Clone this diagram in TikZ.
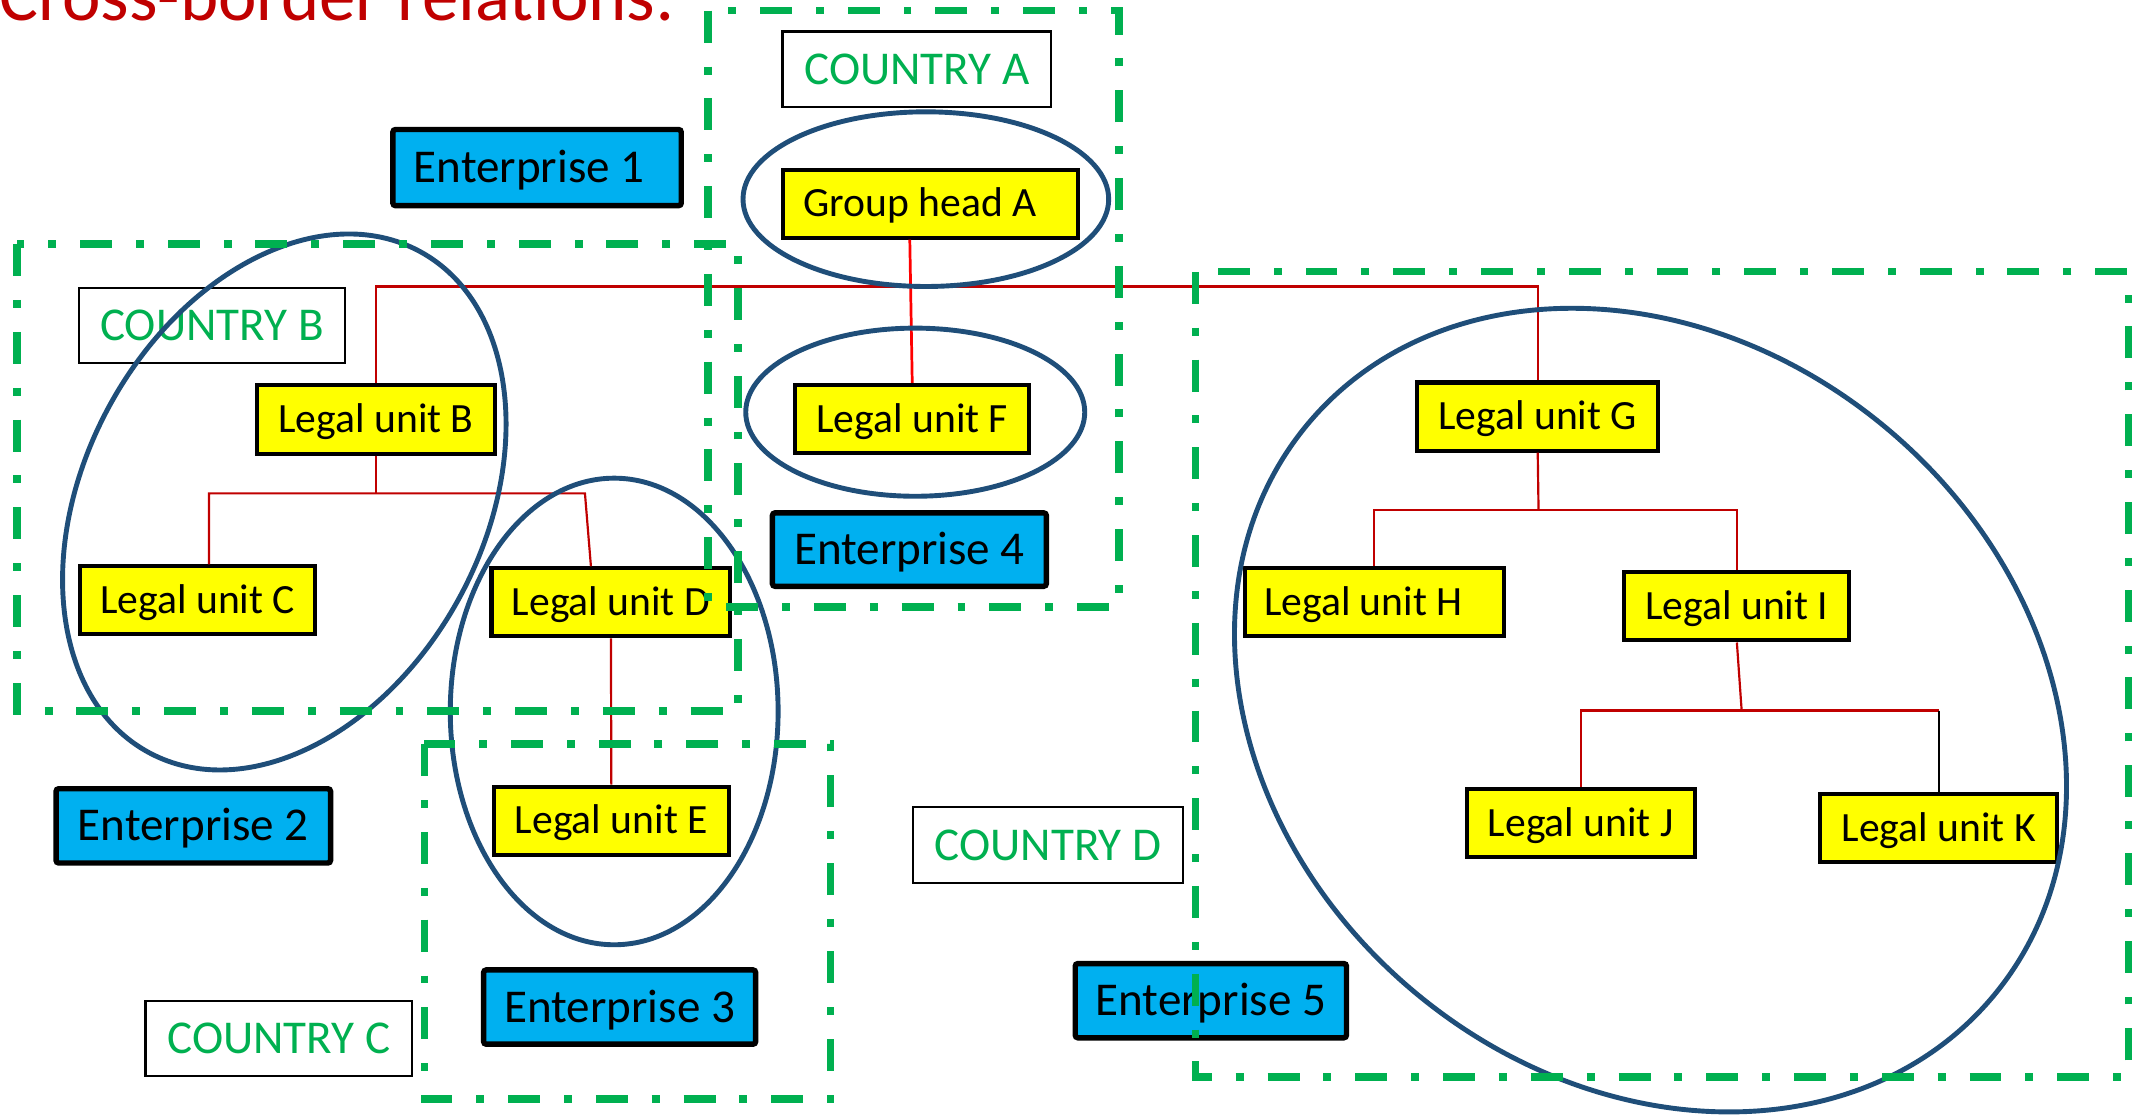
\documentclass[tikz,border=0pt]{standalone}
\usepackage{fontspec}
\setmainfont{Carlito}
\usetikzlibrary{calc}
\definecolor{luyellow}{HTML}{FFFF00}
\definecolor{entblue}{HTML}{00B0F0}
\definecolor{ctrygreen}{HTML}{00B050}
\definecolor{ellblue}{HTML}{1F4E79}
\definecolor{linkred}{HTML}{C00000}
\definecolor{titlered}{HTML}{C00000}
\tikzset{
  lu/.style={draw=black, line width=1.5pt, fill=luyellow, inner sep=0pt,
    minimum height=25pt, text height=9.8pt, text depth=0pt,
    font=\fontsize{15.3}{18}\selectfont},
  ent/.style={draw=black, line width=2pt, fill=entblue, inner sep=0pt,
    rounded corners=1pt, minimum height=27.3pt, text height=11.1pt, text depth=0pt,
    font=\fontsize{17.3}{20}\selectfont},
  ctry/.style={draw=black, line width=0.8pt, fill=white, text=ctrygreen, inner sep=0pt,
    minimum height=27.7pt, text height=11.1pt, text depth=0pt,
    font=\fontsize{17.3}{20}\selectfont},
  grp/.style={draw=ellblue, line width=1.8pt},
  border/.style={draw=ctrygreen, line width=2.7pt,
    dash pattern=on 11.75pt off 8.8pt on 2.9pt off 8.8pt},
  link/.style={draw=linkred, line width=0.8pt},
}
\begin{document}
\begin{tikzpicture}[x=0.5pt,y=-0.5pt]
\useasboundingbox (0,0) rectangle (1568,819.7);

% title
\node[anchor=base west, inner sep=0pt, text=titlered,
  font=\fontsize{26.8}{30}\selectfont] (title) at (-1,15.2) {Cross-border relations:};

% country labels
\node[ctry, minimum width=98.8pt] (cA) at (674,50.9) {COUNTRY A};
\node[ctry, minimum width=97.8pt] (cB) at (155.8,239.3) {COUNTRY B};
\node[ctry, minimum width=98.1pt] (cC) at (205,763.4) {COUNTRY C};
\node[ctry, minimum width=99.1pt] (cD) at (770.4,621.2) {COUNTRY D};

% enterprises
\node[ent, minimum width=106pt, minimum height=28pt] (e1) at (394.8,123.2) {\hspace*{-5.8pt}Enterprise 1};
\node[ent, minimum width=100.9pt] (e2) at (142.1,607.1) {Enterprise 2};
\node[ent, minimum width=100pt] (e3) at (455.5,740.3) {Enterprise 3};
\node[ent, minimum width=100.7pt, minimum height=27pt] (e4) at (668.5,404) {Enterprise 4};
\node[ent, minimum width=99.7pt] (e5) at (890.1,735.6) {Enterprise 5};

% legal units
\node[lu, minimum width=108.4pt] (GH) at (683.8,149.7) {\hspace*{-7.3pt}Group head A};
\node[lu, minimum width=86.1pt] (F) at (670.6,307.9) {Legal unit F};
\node[lu, minimum width=87.2pt, minimum height=25.3pt] (B) at (276.4,308.2) {Legal unit B};
\node[lu, minimum width=86.5pt] (C) at (145.3,441.3) {Legal unit C};
\node[lu, minimum width=87.8pt] (D) at (449.1,442.8) {Legal unit D};
\node[lu, minimum width=86.3pt] (E) at (449.4,603.2) {Legal unit E};
\node[lu, minimum width=88.7pt] (G) at (1130.4,306.2) {Legal unit G};
\node[lu, minimum width=95.3pt] (H) at (1010.2,442.8) {\hspace*{-8pt}Legal unit H};
\node[lu, minimum width=82.7pt] (I) at (1276.8,445.8) {Legal unit I};
\node[lu, minimum width=83.8pt] (J) at (1162,604.9) {Legal unit J};
\node[lu, minimum width=87.1pt] (K) at (1425.1,608.6) {Legal unit K};

% connectors
\coordinate (bus) at (700,210.6);
\draw[link] (B.north) |- (bus) -| (G.north);
\draw[draw=red, line width=1pt] ([xshift=-7.5pt]GH.south) -- (F.north);
\coordinate (Bj) at (430,362.7);
\draw[link] (B.south) -- (B.south |- Bj);
\draw[link] ([xshift=4.15pt]C.north) |- (Bj) -- ([xshift=-7.35pt]D.north);
\draw[link] (D.south) -- (E.north);
\coordinate (Gj) at (1131,374.9);
\draw[link] (G.south) -- (Gj);
\draw[link] (H.north) |- (Gj) -| (I.north);
\coordinate (Ij) at (1280.3,522.3);
\draw[link] (I.south) -- (Ij);
\draw[link] (J.north) |- (Ij) -- (Ij -| K.north);
\draw[draw=black, line width=0.8pt] (Ij -| K.north) -- (K.north);

% enterprise groupings
\draw[grp] (680.6,146.4) ellipse [x radius=134.4, y radius=64.2];
\draw[grp] (672.8,303) ellipse [x radius=124.6, y radius=61.8];
\draw[grp, rotate around={61.6:(209,369)}] (209,369) ellipse [x radius=209.4, y radius=146.7];
\draw[grp] (451.5,523) ellipse [x radius=120.5, y radius=171.5];
\draw[grp, rotate around={-39.8:(1213.3,522)}] (1213.3,522) ellipse [x radius=328.2, y radius=270.3];

% country borders
\draw[border] (520.5,7.9) rectangle (822.6,446.1);
\draw[border] (12.5,179.4) rectangle (542.6,522.7);
\draw[border] (312,547) rectangle (610.5,808);
\draw[border] (878.8,199.8) rectangle (1564.5,791.8);
\end{tikzpicture}
\end{document}
